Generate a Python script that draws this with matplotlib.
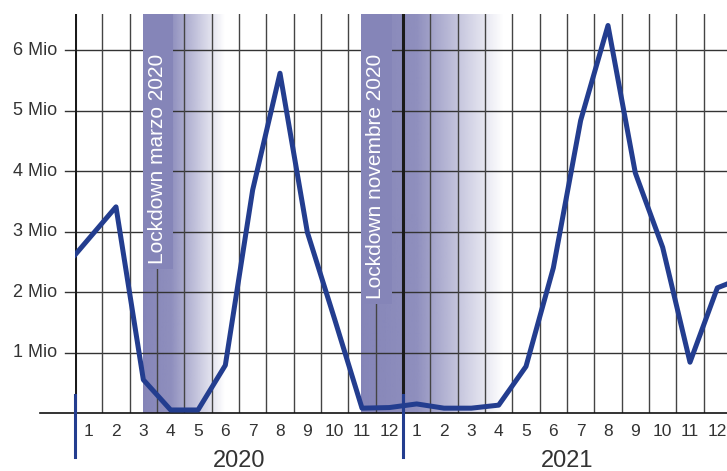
import numpy as np
import matplotlib
matplotlib.use('Agg')
import matplotlib.pyplot as plt
from matplotlib.patches import Rectangle
from matplotlib.colors import to_rgb

# Valori mensili (milioni), da dic 2019 a gen 2022 (gli estremi vengono tagliati)
mesi_x = np.arange(-1, 25)
valori = [2.35,
          2.88, 3.41, 0.55, 0.05, 0.05, 0.79, 3.69, 5.62, 2.99, 1.55, 0.08, 0.09,
          0.15, 0.08, 0.08, 0.13, 0.77, 2.40, 4.84, 6.41, 3.97, 2.74, 0.84, 2.07,
          2.25]
etichette_mesi = [str(m) for m in range(1, 13)] * 2
anni = ['2020', '2021']
etichette_y = ['1 Mio', '2 Mio', '3 Mio', '4 Mio', '5 Mio', '6 Mio']
lockdown = ['Lockdown marzo 2020', 'Lockdown novembre 2020']

blu = '#233d8f'
viola = '#8585b8'
grigio = '#333333'
plt.rcParams['font.family'] = ['Liberation Sans', 'DejaVu Sans']

fig = plt.figure(figsize=(7.27, 4.71), dpi=100)
ax = fig.add_axes([75 / 727, 1 - 413 / 471, 652 / 727, 399 / 471])
ymax = 6.6
ax.set_xlim(-0.5, -0.5 + 652 / (328 / 12))
ax.set_ylim(0, ymax)
ax.axis('off')

# bande sfumate dei lockdown
def banda(x0, x1, pieno, zo=0.5):
    xs = np.linspace(x0, x1, 300)
    a = np.interp(xs, [x0, pieno, x1], [1.0, 0.92, 0.0])
    img = np.zeros((1, len(xs), 4))
    img[0, :, :3] = to_rgb(viola)
    img[0, :, 3] = a
    ax.imshow(img, extent=(x0, x1, 0, ymax), aspect='auto', zorder=zo,
              interpolation='bilinear')

banda(1.97, 4.95, 3.0)
banda(9.97, 15.2, 12.0)

# griglia
yaxis_tr = ax.get_yaxis_transform()
for v in range(1, 7):
    ax.plot([-10 / 652, 1], [v, v], color=grigio, lw=1, transform=yaxis_tr,
            clip_on=False, zorder=1)
ax.plot([-35 / 652, 1], [0, 0], color='#111111', lw=1.2, transform=yaxis_tr,
        clip_on=False, zorder=3)
for xv in np.arange(-0.5, 24, 1.0):
    if xv in (-0.5, 11.5):
        ax.plot([xv, xv], [0, ymax], color='#1a1a1a', lw=2.2, zorder=3)
    else:
        ax.plot([xv, xv], [0, ymax], color='#444444', lw=1, zorder=1)

# rettangoli dietro il testo
ax.add_patch(Rectangle((1.97, 2.38), 1.13, ymax - 2.38, color=viola, lw=0, zorder=1.5))
ax.add_patch(Rectangle((9.97, 1.8), 1.13, ymax - 1.8, color=viola, lw=0, zorder=1.5))
ax.text(2.52, 5.95, lockdown[0], rotation=90, ha='center', va='top',
        color='white', fontsize=15, zorder=4)
ax.text(10.51, 5.95, lockdown[1], rotation=90, ha='center', va='top',
        color='white', fontsize=15, zorder=4)

# linea dati
ax.plot(mesi_x, valori, color=blu, lw=3.6, solid_joinstyle='round', zorder=5)

# etichette
for v, lab in zip(range(1, 7), etichette_y):
    ax.text(-18 / 652, v, lab, transform=yaxis_tr, ha='right', va='center',
            fontsize=13, color=grigio)
xaxis_tr = ax.get_xaxis_transform()
for i, lab in enumerate(etichette_mesi):
    ax.text(i, -19 / 399, lab, transform=xaxis_tr, ha='center', va='center',
            fontsize=12.5, color=grigio)
for k, anno in enumerate(anni):
    ax.text(5.5 + 12 * k, -48 / 399, anno, transform=xaxis_tr, ha='center',
            va='center', fontsize=17, color=grigio)
    ax.plot([-0.5 + 12 * k] * 2, [18 / 399, -44 / 399], color=blu, lw=2.2,
            transform=xaxis_tr, clip_on=False, zorder=6)

fig.savefig('out.png', dpi=100)
